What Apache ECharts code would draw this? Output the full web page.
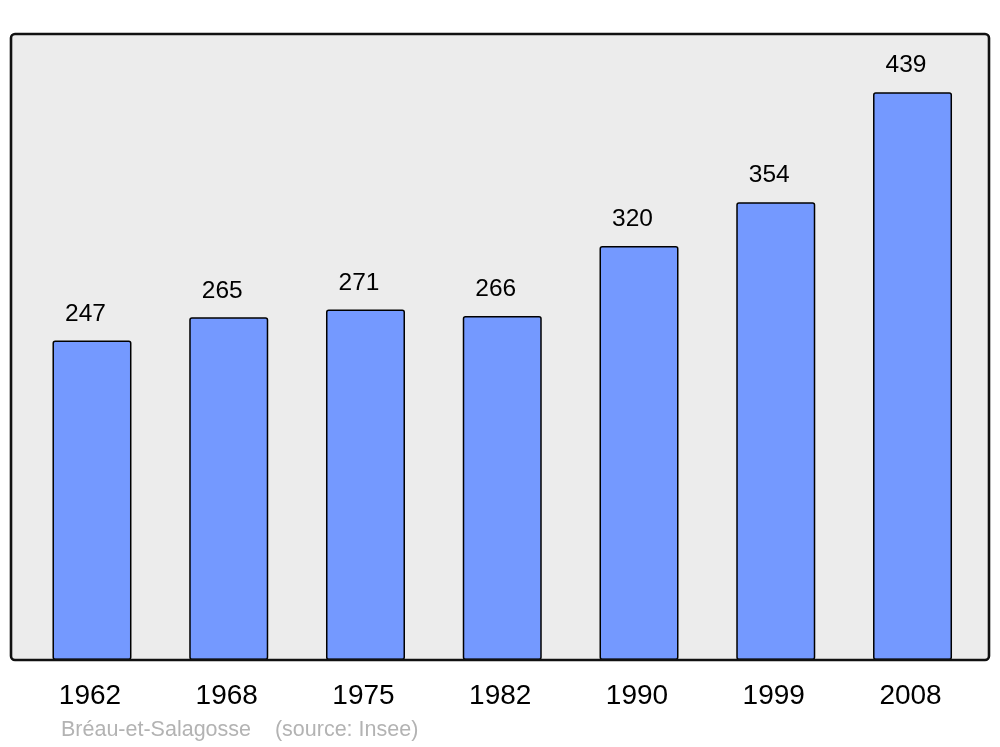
<!DOCTYPE html>
<html>
<head>
<meta charset="utf-8">
<script src="https://cdn.jsdelivr.net/npm/echarts@6/dist/echarts.min.js"></script>
<style>html,body{margin:0;padding:0;background:#fff}#c{width:1000px;height:747px}</style>
</head>
<body>
<div id="c"></div>
<script>
const years = ['1962', '1968', '1975', '1982', '1990', '1999', '2008'];
const population = [247, 265, 271, 266, 320, 354, 439];
const footer = 'Bréau-et-Salagosse    (source: Insee)';

const chart = echarts.init(document.getElementById('c'), null, {renderer: 'canvas'});
chart.setOption({
  animation: false,
  backgroundColor: '#ffffff',
  grid: {left: 23.6, right: 19.1, top: 34, bottom: 87},
  xAxis: {
    type: 'category',
    data: years,
    axisLine: {show: false},
    axisTick: {show: false},
    axisLabel: {color: '#000', fontSize: 28, fontFamily: 'Liberation Sans, Arial, sans-serif', margin: 22,
                padding: [0, 4, 0, 0]}
  },
  yAxis: {type: 'value', min: 0, max: 484, show: false, splitLine: {show: false}},
  graphic: [
    {type: 'rect', z: -10, shape: {x: 11, y: 34, width: 978, height: 626, r: 4},
     style: {fill: '#ececec', stroke: null}},
    {type: 'rect', z: 100, shape: {x: 11, y: 34, width: 978, height: 626, r: 4},
     style: {fill: null, stroke: '#111', lineWidth: 2.6}},
    {type: 'text', left: 61, top: 719.5, z: 100,
     style: {text: footer, fill: '#b3b3b3', fontSize: 21.5, fontFamily: 'Liberation Sans, Arial, sans-serif'}}
  ],
  series: [{
    type: 'bar',
    data: population,
    barWidth: 79,
    itemStyle: {color: '#7499ff', borderColor: '#000', borderWidth: 1.5, borderRadius: 2},
    label: {show: true, position: 'top', distance: 14, offset: [-6.5, 0], color: '#000', fontSize: 24.5,
            fontFamily: 'Liberation Sans, Arial, sans-serif'}
  }]
});
</script>
</body>
</html>
